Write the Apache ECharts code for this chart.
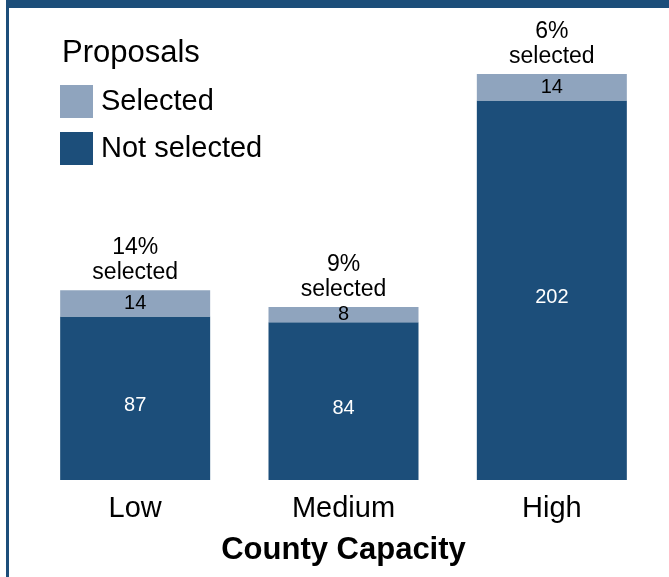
<!DOCTYPE html>
<html>
<head>
<meta charset="utf-8">
<script src="https://cdn.jsdelivr.net/npm/echarts@6/dist/echarts.min.js"></script>
<style>
html,body{margin:0;padding:0;background:#fff;}
#chart{width:669px;height:577px;}
</style>
</head>
<body>
<div id="chart"></div>
<script>
var categories = ['Low', 'Medium', 'High'];
var selected = [14, 8, 14];
var notSelected = [87, 84, 202];
var legendTitle = 'Proposals';
var axisTitle = 'County Capacity';

var totals = categories.map(function (c, i) { return selected[i] + notSelected[i]; });
var pct = totals.map(function (t, i) { return Math.round(selected[i] / t * 100); });

var DARK = '#1c4e7a';
var LIGHT = '#8fa4be';
var FONT = '"Liberation Sans", Arial, Helvetica, sans-serif';

var chart = echarts.init(document.getElementById('chart'), null, {renderer: 'canvas'});
chart.setOption({
  backgroundColor: '#ffffff',
  animation: false,
  textStyle: {fontFamily: FONT},
  title: {
    text: legendTitle,
    left: 62, top: 38, padding: 0,
    textStyle: {fontFamily: FONT, fontSize: 31, fontWeight: 'normal', color: '#000'}
  },
  legend: {
    orient: 'vertical',
    left: 60, top: 85, padding: 0,
    itemWidth: 33, itemHeight: 33, itemGap: 14,
    icon: 'rect',
    data: ['Selected', 'Not selected'],
    textStyle: {fontFamily: FONT, fontSize: 29, color: '#000', padding: [0, 0, 0, 3]}
  },
  grid: {left: 31, right: 13, top: 29, bottom: 97},
  xAxis: {
    type: 'category',
    data: categories,
    axisLine: {show: false},
    axisTick: {show: false},
    axisLabel: {fontFamily: FONT, fontSize: 29, color: '#000', margin: 14},
    name: axisTitle,
    nameLocation: 'middle',
    nameGap: 55,
    nameTextStyle: {fontFamily: FONT, fontSize: 31, fontWeight: 'bold', color: '#000'}
  },
  yAxis: {type: 'value', min: 0, max: 240, show: false},
  series: [
    {
      name: 'Not selected', type: 'bar', stack: 'total', barWidth: 150,
      data: notSelected,
      itemStyle: {color: DARK},
      label: {show: true, position: 'inside', offset: [0, 7], color: '#fff', fontSize: 20, fontFamily: FONT}
    },
    {
      name: 'Selected', type: 'bar', stack: 'total', barWidth: 150,
      data: selected,
      itemStyle: {color: LIGHT},
      label: {show: true, position: 'inside', color: '#000', fontSize: 20, fontFamily: FONT}
    },
    {
      name: 'pct', type: 'scatter', symbolSize: 0,
      data: totals,
      silent: true,
      itemStyle: {opacity: 1, color: 'rgba(0,0,0,0)'},
      label: {
        show: true, position: 'top', distance: 5,
        color: '#000', fontSize: 23, lineHeight: 25, fontFamily: FONT,
        formatter: function (p) { return pct[p.dataIndex] + '%\nselected'; }
      }
    }
  ],
  graphic: [
    {type: 'rect', left: 6, top: 0, shape: {width: 663, height: 8}, style: {fill: DARK}},
    {type: 'rect', left: 6, top: 0, shape: {width: 3, height: 577}, style: {fill: DARK}}
  ]
});
</script>
</body>
</html>
